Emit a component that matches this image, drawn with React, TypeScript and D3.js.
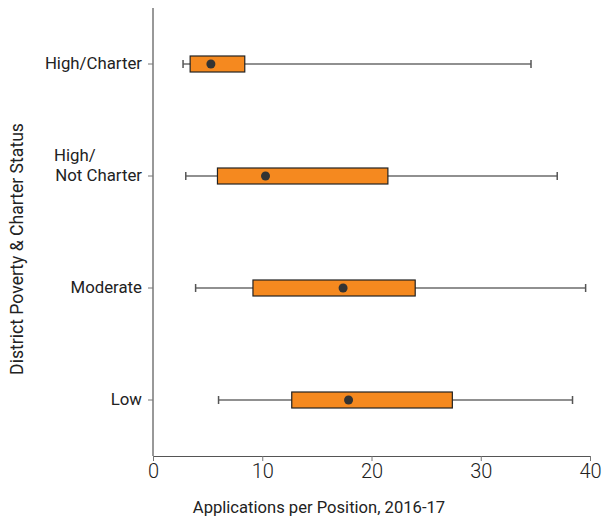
import * as React from 'react';
import * as d3 from 'd3';

const categories = ['High/Charter', 'High/Not Charter', 'Moderate', 'Low'];
const whiskerLow = [2.75, 3.0, 3.9, 6.0];
const quartile1 = [3.4, 5.9, 9.15, 12.7];
const centers = [5.3, 10.3, 17.4, 17.9];
const quartile3 = [8.4, 21.5, 24.0, 27.4];
const whiskerHigh = [34.6, 37.0, 39.6, 38.4];
const xTicks = [0, 10, 20, 30, 40];

const width = 605, height = 520;
const left = 153, right = 590, top = 8, bottom = 456;
const font = 'Roboto, "Open Sans", sans-serif';

const App = () => {
  const svgRef = React.useRef<SVGSVGElement>(null);

  React.useEffect(() => {
    const svg = d3.select(svgRef.current);
    svg.selectAll('*').remove();

    const x = d3.scaleLinear().domain([0, 40]).range([left, right]);
    const y = d3.scaleBand().domain(categories).range([top, bottom]);
    const yc = (c: string) => (y(c) || 0) + y.bandwidth() / 2;

    const rows = categories.map((c, i) => ({
      c, lo: whiskerLow[i], q1: quartile1[i], mid: centers[i], q3: quartile3[i], hi: whiskerHigh[i],
    }));

    // axes
    const xAxis = svg.append('g')
      .attr('transform', `translate(0,${bottom})`)
      .call(d3.axisBottom(x).tickValues(xTicks).tickSize(5).tickPadding(3));
    xAxis.select('.domain').attr('stroke', '#555');
    xAxis.selectAll('line').attr('stroke', '#777');
    xAxis.selectAll('text')
      .attr('font-family', font).attr('font-size', 20).attr('font-weight', 300).attr('fill', '#222');

    const yAxis = svg.append('g')
      .attr('transform', `translate(${left},0)`)
      .call(d3.axisLeft(y).tickSize(5).tickFormat(() => ''));
    yAxis.select('.domain').attr('stroke', '#333').attr('d', `M0,${top}V${bottom}`);
    yAxis.selectAll('line').attr('stroke', '#777');

    const labels = svg.append('g');
    rows.forEach((r) => {
      const lines = r.c === 'High/Not Charter' ? ['High/', 'Not Charter'] : [r.c];
      const t = labels.append('text')
        .attr('x', left - 11)
        .attr('y', yc(r.c) + 5)
        .attr('text-anchor', 'end')
        .attr('font-family', font).attr('font-size', 16.8).attr('fill', '#222');
      lines.forEach((l, j) => {
        t.append('tspan')
          .attr('x', lines.length > 1 && j === 0 ? left - 99 : left - 11)
          .attr('text-anchor', lines.length > 1 && j === 0 ? 'start' : 'end')
          .attr('dy', j === 0 ? -(lines.length - 1) * 20 : 20)
          .text(l);
      });
    });

    // boxes
    const g = svg.append('g');
    g.selectAll('line.whisker').data(rows).enter().append('line')
      .attr('x1', (d) => x(d.lo)).attr('x2', (d) => x(d.hi))
      .attr('y1', (d) => yc(d.c)).attr('y2', (d) => yc(d.c))
      .attr('stroke', '#222').attr('stroke-width', 1.2);
    g.selectAll('line.capl').data(rows).enter().append('line')
      .attr('x1', (d) => x(d.lo)).attr('x2', (d) => x(d.lo))
      .attr('y1', (d) => yc(d.c) - 4).attr('y2', (d) => yc(d.c) + 4)
      .attr('stroke', '#555').attr('stroke-width', 1.5);
    g.selectAll('line.caph').data(rows).enter().append('line')
      .attr('x1', (d) => x(d.hi)).attr('x2', (d) => x(d.hi))
      .attr('y1', (d) => yc(d.c) - 4).attr('y2', (d) => yc(d.c) + 4)
      .attr('stroke', '#555').attr('stroke-width', 1.5);
    g.selectAll('rect').data(rows).enter().append('rect')
      .attr('x', (d) => x(d.q1)).attr('width', (d) => x(d.q3) - x(d.q1))
      .attr('y', (d) => yc(d.c) - 8).attr('height', 16)
      .attr('fill', '#F5891F').attr('stroke', '#222').attr('stroke-width', 1.2);
    g.selectAll('circle').data(rows).enter().append('circle')
      .attr('cx', (d) => x(d.mid)).attr('cy', (d) => yc(d.c)).attr('r', 4.5)
      .attr('fill', '#333');

    // titles
    svg.append('text')
      .attr('x', 319).attr('y', 513)
      .attr('text-anchor', 'middle')
      .attr('font-family', font).attr('font-size', 16.6).attr('fill', '#222')
      .text('Applications per Position, 2016-17');
    svg.append('text')
      .attr('transform', `translate(23,249) rotate(-90)`)
      .attr('text-anchor', 'middle')
      .attr('font-family', font).attr('font-size', 17.6).attr('fill', '#222')
      .text('District Poverty & Charter Status');
  }, []);

  return (
    <svg ref={svgRef} width={width} height={height}
      style={{ position: 'absolute', left: 0, top: 0, background: '#fff' }} />
  );
};

export default App;
